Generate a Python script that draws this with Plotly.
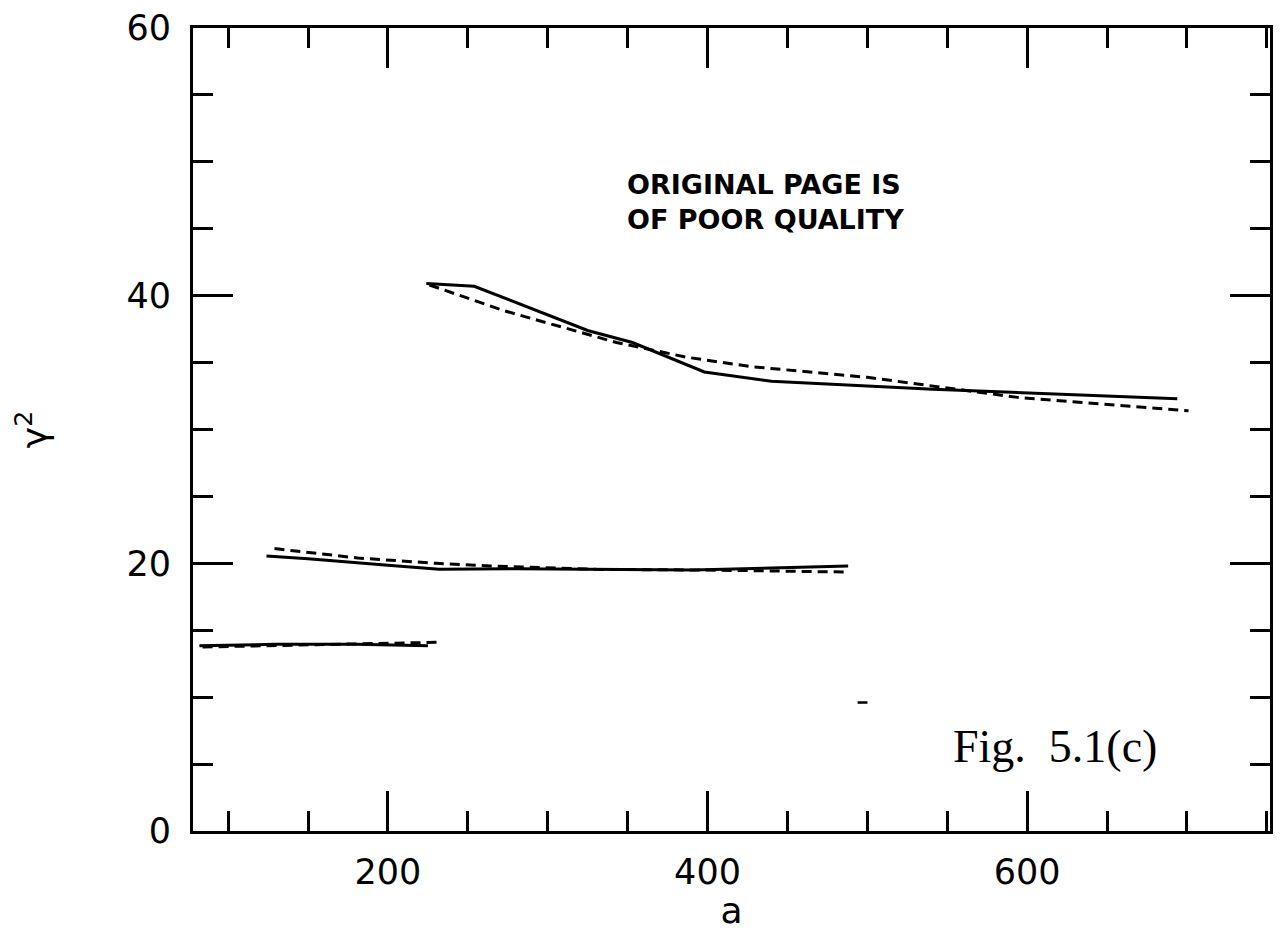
import plotly.graph_objects as go

# ---- data ----
solid1_x = [82, 130, 180, 225]
solid1_y = [13.85, 13.95, 13.95, 13.85]
dash1_x = [84, 150, 200, 231]
dash1_y = [13.75, 13.9, 14.0, 14.1]

solid2_x = [124, 150, 200, 232, 280, 391, 488]
solid2_y = [20.55, 20.35, 19.85, 19.55, 19.6, 19.5, 19.8]
dash2_x = [129, 181, 230, 264, 330, 400, 486]
dash2_y = [21.1, 20.4, 20.0, 19.8, 19.55, 19.5, 19.35]

solid3_x = [224, 254, 325, 353, 398, 440, 541, 694]
solid3_y = [40.9, 40.7, 37.4, 36.5, 34.3, 33.6, 33.0, 32.3]
dash3_x = [226, 272, 343, 387, 427, 500, 594, 701]
dash3_y = [40.8, 38.9, 36.5, 35.4, 34.7, 33.9, 32.4, 31.4]

speck_x = [497]
speck_y = [9.6]

x_ticks = [200, 400, 600]
y_ticks = [0, 20, 40, 60]

fig = go.Figure()
LW = 3
DASH = "10px,6px"
for xs, ys, d in [(solid1_x, solid1_y, "solid"), (dash1_x, dash1_y, DASH),
                  (solid2_x, solid2_y, "solid"), (dash2_x, dash2_y, DASH),
                  (solid3_x, solid3_y, "solid"), (dash3_x, dash3_y, DASH)]:
    fig.add_trace(go.Scatter(x=xs, y=ys, mode="lines",
                             line=dict(color="black", width=LW, dash=d),
                             showlegend=False, hoverinfo="skip"))

fig.add_trace(go.Scatter(x=speck_x, y=speck_y, mode="markers",
                         marker=dict(symbol="line-ew", size=7,
                                     line=dict(color="black", width=2.5)),
                         showlegend=False, hoverinfo="skip"))

tickfont = dict(family="DejaVu Sans", size=35, color="black")
titlefont = dict(family="DejaVu Sans", size=36, color="black")

fig.update_xaxes(range=[78, 752], showline=True, linewidth=3, linecolor="black",
                 mirror="allticks", ticks="inside", ticklen=40, tickwidth=2.5,
                 tickcolor="black", tickvals=x_ticks, ticktext=[str(v) for v in x_ticks],
                 tickfont=tickfont, showgrid=False, zeroline=False, automargin=False,
                 ticklabelstandoff=8,
                 minor=dict(tickvals=list(range(100, 751, 50)), ticks="inside",
                            ticklen=20, tickwidth=2.5, tickcolor="black", showgrid=False),
                 title=dict(text="a", font=titlefont, standoff=9))

fig.update_yaxes(range=[0, 60], showline=True, linewidth=3, linecolor="black",
                 mirror="allticks", ticks="inside", ticklen=40, tickwidth=2.5,
                 tickcolor="black", tickvals=y_ticks, ticktext=[str(v) for v in y_ticks],
                 tickfont=tickfont, showgrid=False, zeroline=False, automargin=False,
                 ticklabelstandoff=12,
                 minor=dict(dtick=5, tick0=0, ticks="inside",
                            ticklen=20, tickwidth=2.5, tickcolor="black", showgrid=False),
                 title=dict(text="γ<sup>2</sup>", font=titlefont, standoff=68))

fig.add_annotation(x=348.4, y=47.0, xref="x", yref="y", xanchor="left", yanchor="middle",
                   align="left", showarrow=False,
                   text="<b>ORIGINAL PAGE IS<br>OF POOR QUALITY</b>",
                   font=dict(family="DejaVu Sans", size=27, color="black"))

fig.add_annotation(x=78 + (1055 - 193) / 1.5975, y=(831 - 747) / 13.38,
                   xref="x", yref="y", xanchor="center", yanchor="middle",
                   showarrow=False, text="Fig.&nbsp; 5.1(c)",
                   font=dict(family="Liberation Serif", size=46, color="black"))

fig.update_layout(width=1283, height=931, paper_bgcolor="white", plot_bgcolor="white",
                  margin=dict(l=193, r=13, t=28, b=100), showlegend=False)

fig.write_html("out.html")
